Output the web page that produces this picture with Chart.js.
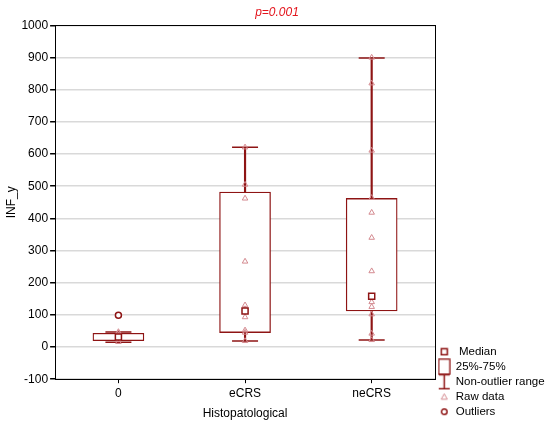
<!DOCTYPE html>
<html>
<head>
<meta charset="utf-8">
<script src="https://cdn.jsdelivr.net/npm/chart.js@4.4.1/dist/chart.umd.min.js"></script>
<style>
  html, body { margin: 0; padding: 0; background: #fff; }
</style>
</head>
<body>
<canvas id="grafico" width="550" height="425"></canvas>
<script>
// categorias e estatísticas de cada caixa
const categorias = ["0", "eCRS", "neCRS"];
const minimos = [15, 19, 22];
const quartil1 = [20, 45, 112];
const medianas = [31, 112, 158];
const quartil3 = [43, 482, 462];
const maximos = [47, 621, 899];

// outliers
const outlierCats = ["0"];
const outlierVals = [99];

// dados brutos (triângulos)
const brutos0 = [16, 22, 27, 31, 36, 43, 47];
const brutosECRS = [621, 505, 462, 266, 130, 118, 93, 52, 45, 19];
const brutosNeCRS = [900, 820, 611, 464, 418, 340, 236, 158, 140, 125, 102, 42, 22];

// ticks do eixo y
const yMin = -100;
const yMax = 1000;
const yPasso = 100;

const vermelhoEscuro = "#8e1414";
const rosa = "#d48a90";

Chart.defaults.font.family = "'Liberation Sans', Arial, sans-serif";
Chart.defaults.font.size = 12;
Chart.defaults.color = "#000";

// ícones da legenda desenhados à mão
function icone(w, h, desenhar) {
  const c = document.createElement("canvas");
  c.width = w;
  c.height = h;
  const g = c.getContext("2d");
  desenhar(g);
  return c;
}

const iconeMediana = icone(9, 9, (g) => {
  g.strokeStyle = vermelhoEscuro;
  g.lineWidth = 1.5;
  g.strokeRect(1.5, 1.5, 6, 6);
});
const iconeCaixa = icone(13, 17, (g) => {
  g.strokeStyle = vermelhoEscuro;
  g.lineWidth = 1.2;
  g.strokeRect(1, 1, 11, 15);
});
const iconeIntervalo = icone(13, 17, (g) => {
  g.strokeStyle = vermelhoEscuro;
  g.lineWidth = 1.5;
  g.beginPath();
  g.moveTo(1, 1.5); g.lineTo(12, 1.5);
  g.moveTo(6.5, 1.5); g.lineTo(6.5, 15.5);
  g.moveTo(1, 15.5); g.lineTo(12, 15.5);
  g.stroke();
});
const iconeBruto = icone(9, 9, (g) => {
  g.strokeStyle = rosa;
  g.lineWidth = 1;
  g.beginPath();
  g.moveTo(4.5, 1.5); g.lineTo(7.5, 7); g.lineTo(1.5, 7); g.closePath();
  g.stroke();
});
const iconeOutlier = icone(9, 9, (g) => {
  g.strokeStyle = vermelhoEscuro;
  g.lineWidth = 1.5;
  g.beginPath();
  g.arc(4.5, 4.5, 2.8, 0, Math.PI * 2);
  g.stroke();
});

const itensLegenda = [
  { text: " Median", pointStyle: iconeMediana },
  { text: "25%-75%", pointStyle: iconeCaixa },
  { text: "Non-outlier range", pointStyle: iconeIntervalo },
  { text: "Raw data", pointStyle: iconeBruto },
  { text: "Outliers", pointStyle: iconeOutlier },
];

// pontos brutos por categoria
const brutos = [];
[brutos0, brutosECRS, brutosNeCRS].forEach((lista, i) => {
  lista.forEach((v) => brutos.push({ x: categorias[i], y: v }));
});

const extremos = [];
categorias.forEach((c, i) => {
  extremos.push({ x: c, y: maximos[i] });
  extremos.push({ x: c, y: minimos[i] });
});

new Chart(document.getElementById("grafico"), {
  type: "bar",
  data: {
    labels: categorias,
    datasets: [
      {
        label: "whisker",
        data: categorias.map((c, i) => [minimos[i], maximos[i]]),
        backgroundColor: vermelhoEscuro,
        barThickness: 1.5,
        grouped: false,
        order: 6,
      },
      {
        label: "caixa",
        data: categorias.map((c, i) => [quartil1[i], quartil3[i]]),
        backgroundColor: "#fff",
        borderColor: vermelhoEscuro,
        borderWidth: 1.3,
        borderSkipped: false,
        barThickness: 51,
        grouped: false,
        order: 5,
      },
      {
        type: "line",
        label: "extremos",
        data: extremos,
        showLine: false,
        pointStyle: "line",
        pointRadius: 13,
        borderColor: vermelhoEscuro,
        borderWidth: 1.5,
        order: 4,
      },
      {
        type: "line",
        label: "brutos",
        data: brutos,
        showLine: false,
        pointStyle: "triangle",
        pointRadius: 3.2,
        borderColor: rosa,
        backgroundColor: "rgba(0,0,0,0)",
        borderWidth: 1,
        order: 3,
      },
      {
        type: "line",
        label: "mediana",
        data: categorias.map((c, i) => ({ x: c, y: medianas[i] })),
        showLine: false,
        pointStyle: "rect",
        pointRadius: 4.3,
        borderColor: vermelhoEscuro,
        backgroundColor: "#fff",
        borderWidth: 1.5,
        order: 2,
      },
      {
        type: "line",
        label: "outliers",
        data: outlierCats.map((c, i) => ({ x: c, y: outlierVals[i] })),
        showLine: false,
        pointStyle: "circle",
        pointRadius: 3,
        borderColor: vermelhoEscuro,
        backgroundColor: "#fff",
        borderWidth: 1.5,
        order: 1,
      },
    ],
  },
  options: {
    responsive: false,
    animation: false,
    layout: { padding: { left: 4, right: 0, bottom: 4 } },
    plugins: {
      tooltip: { enabled: false },
      title: {
        display: true,
        text: "p=0.001",
        color: "#e3141c",
        font: { size: 12, style: "italic", weight: "normal" },
        padding: { top: 5, bottom: 6 },
      },
      legend: {
        position: "right",
        align: "end",
        maxWidth: 115,
        labels: {
          usePointStyle: true,
          boxWidth: 11.5,
          padding: 3.5,
          color: "#000",
          font: { size: 11.5 },
          generateLabels: () =>
            itensLegenda.map((it, i) => ({
              text: it.text,
              pointStyle: it.pointStyle,
              fillStyle: "#fff",
              strokeStyle: vermelhoEscuro,
              lineWidth: 0,
              hidden: false,
              datasetIndex: i,
            })),
        },
        onClick: () => {},
      },
    },
    scales: {
      x: {
        type: "category",
        offset: true,
        grid: {
          offset: false,
          drawOnChartArea: false,
          drawTicks: true,
          tickLength: 4,
          tickColor: "#000",
        },
        border: { display: true, color: "#000", width: 1 },
        ticks: { padding: 3, color: "#000" },
        title: {
          display: true,
          text: "Histopatological",
          color: "#000",
          padding: { top: 3, bottom: 0 },
        },
      },
      xTopo: {
        type: "category",
        position: "top",
        offset: true,
        grid: { display: false, drawTicks: false },
        ticks: { display: false },
        border: { display: true, color: "#000", width: 1 },
      },
      y: {
        min: yMin,
        max: yMax,
        ticks: {
          stepSize: yPasso,
          padding: 2,
          color: "#000",
          callback: (v) => String(v),
        },
        grid: {
          color: "#d9d9d9",
          lineWidth: 1.5,
          tickColor: "#000",
          tickLength: 5,
        },
        border: { display: true, color: "#000", width: 1 },
        title: {
          display: true,
          text: "INF_y",
          color: "#000",
          padding: { top: 0, bottom: 1 },
        },
      },
      yDireita: {
        position: "right",
        min: yMin,
        max: yMax,
        ticks: { display: false, stepSize: yPasso },
        grid: { display: false, drawTicks: false },
        border: { display: true, color: "#000", width: 1 },
      },
    },
  },
});
</script>
</body>
</html>
